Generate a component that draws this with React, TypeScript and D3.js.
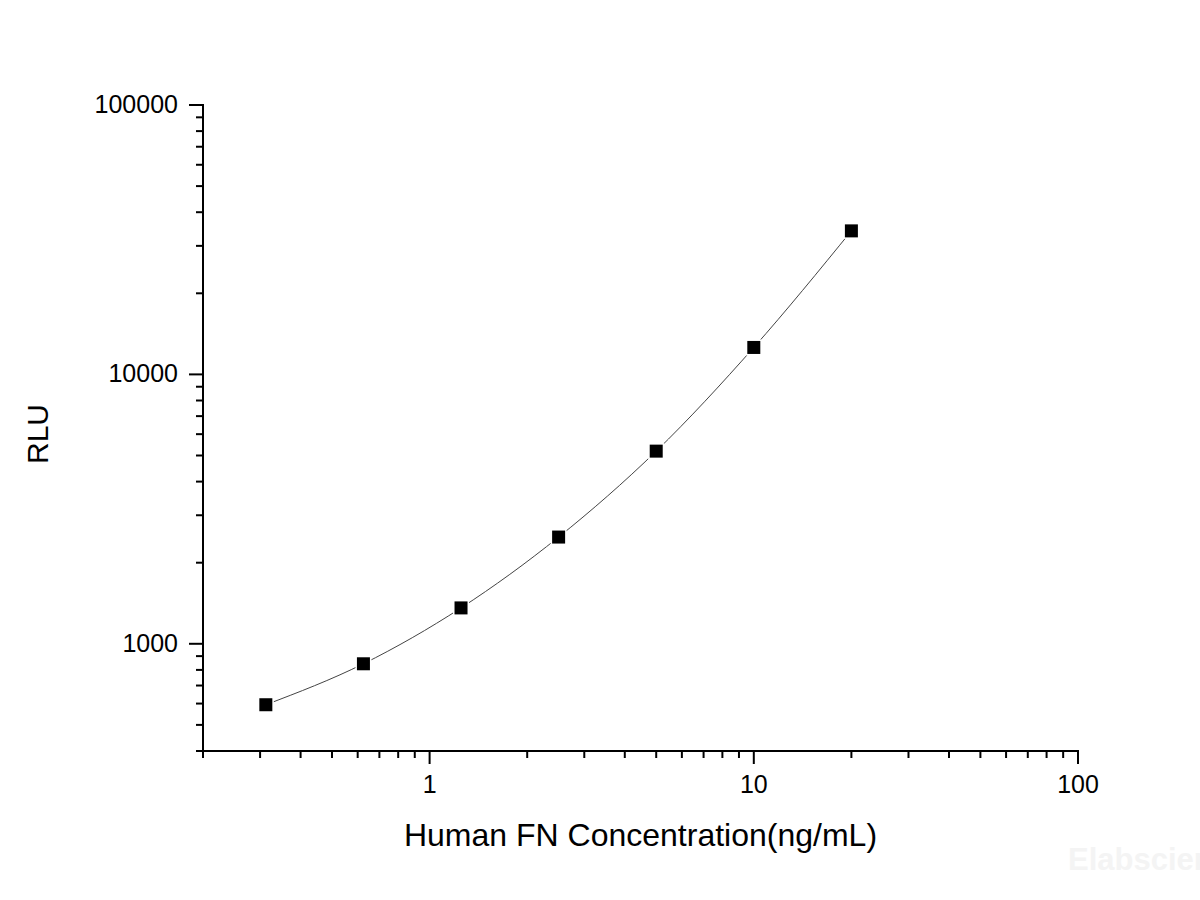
import React from "react";
import * as d3 from "d3";

const concentrations: number[] = [0.3125, 0.625, 1.25, 2.5, 5, 10, 20];
const rluValues: number[] = [594, 843, 1359, 2490, 5190, 12590, 34100];
const xMajorTicks: number[] = [1, 10, 100];
const yMajorTicks: number[] = [1000, 10000, 100000];
const xDomain: [number, number] = [0.2, 100];
const yDomain: [number, number] = [400, 100000];
const xTitle = "Human FN Concentration(ng/mL)";
const yTitle = "RLU";
const watermark = "Elabscience";

const FONT = "'Liberation Sans', Arial, Helvetica, sans-serif";

function minorTicks(domain: [number, number], majors: number[]): number[] {
  const out: number[] = [];
  const lo = Math.floor(Math.log10(domain[0]));
  const hi = Math.ceil(Math.log10(domain[1]));
  for (let e = lo; e < hi; e++) {
    for (let m = 2; m <= 9; m++) {
      const v = m * Math.pow(10, e);
      if (v >= domain[0] - 1e-9 && v <= domain[1] + 1e-9 && !majors.includes(v)) out.push(v);
    }
  }
  return out;
}

export default function App() {
  const W = 1200;
  const H = 900;
  const left = 203, right = 1078, top = 105, bottom = 751;
  const x = d3.scaleLog().domain(xDomain).range([left, right]);
  const y = d3.scaleLog().domain(yDomain).range([bottom, top]);

  const pts = concentrations.map((c, i) => [x(c), y(rluValues[i])] as [number, number]);
  const line = d3.line<[number, number]>().x(d => d[0]).y(d => d[1]).curve(d3.curveMonotoneX);

  const xMinor = minorTicks(xDomain, xMajorTicks);
  const yMinor = minorTicks(yDomain, yMajorTicks);
  const ms = 13;

  return (
    <svg width={W} height={H} style={{ position: "absolute", left: 0, top: 0, background: "#fff" }}>
      <rect x={0} y={0} width={W} height={H} fill="#fff" />
      {/* curve */}
      <path d={line(pts) || ""} fill="none" stroke="#444" strokeWidth={1} />
      {/* markers */}
      {pts.map((p, i) => (
        <rect key={i} x={p[0] - ms / 2} y={p[1] - ms / 2} width={ms} height={ms} fill="#000" stroke="#fff" strokeWidth={3} paintOrder="stroke" />
      ))}
      {/* x axis */}
      <line x1={left - 1} x2={right + 1} y1={bottom} y2={bottom} stroke="#000" strokeWidth={2} />
      {xMajorTicks.map(t => (
        <g key={"xm" + t}>
          <line x1={x(t)} x2={x(t)} y1={bottom} y2={bottom + 13} stroke="#000" strokeWidth={2} />
          <text x={x(t)} y={793} textAnchor="middle" fontFamily={FONT} fontSize={25} fill="#000">{t}</text>
        </g>
      ))}
      {xMinor.map(t => (
        <line key={"xn" + t} x1={x(t)} x2={x(t)} y1={bottom} y2={bottom + 7} stroke="#000" strokeWidth={2} />
      ))}
      {/* y axis */}
      <line x1={left} x2={left} y1={top - 1} y2={bottom + 1} stroke="#000" strokeWidth={2} />
      {yMajorTicks.map(t => (
        <g key={"ym" + t}>
          <line x1={left - 14} x2={left} y1={y(t)} y2={y(t)} stroke="#000" strokeWidth={2} />
          <text x={178} y={y(t) + 8} textAnchor="end" fontFamily={FONT} fontSize={25} fill="#000">{t}</text>
        </g>
      ))}
      {yMinor.map(t => (
        <line key={"yn" + t} x1={left - 7} x2={left} y1={y(t)} y2={y(t)} stroke="#000" strokeWidth={2} />
      ))}
      {/* titles */}
      <text x={(left + right) / 2} y={846} textAnchor="middle" fontFamily={FONT} fontSize={32} fill="#000">{xTitle}</text>
      <text transform={`translate(48, 434) rotate(-90)`} textAnchor="middle" fontFamily={FONT} fontSize={30} fill="#000">{yTitle}</text>
      {/* watermark */}
      <text x={1068} y={870} fontFamily={FONT} fontSize={31} fontWeight="bold" fill="#f4f4f4">{watermark}</text>
    </svg>
  );
}
